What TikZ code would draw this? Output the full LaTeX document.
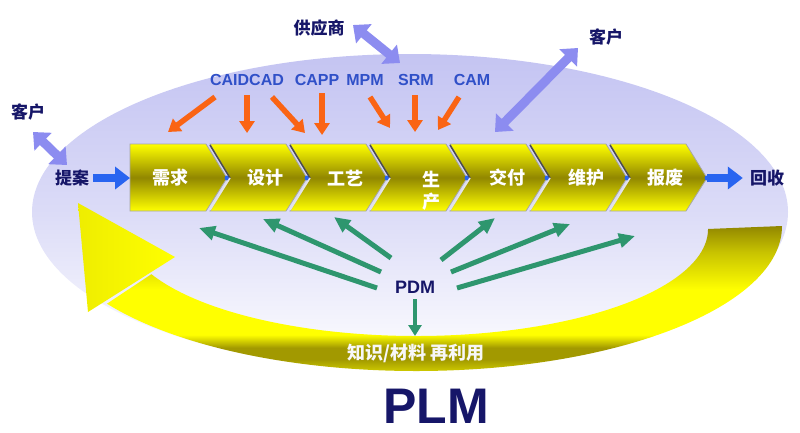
\documentclass[tikz,border=0pt]{standalone}
\usepackage{fontspec}
\setmainfont{Liberation Sans}
\newfontfamily\cjk{Noto Sans CJK SC}
\usetikzlibrary{arrows.meta}

\definecolor{lav}{RGB}{196,196,242}
\definecolor{navy}{RGB}{22,22,104}
\definecolor{caxblue}{RGB}{48,80,200}
\definecolor{flowblue}{RGB}{40,100,240}
\definecolor{dblblue}{RGB}{140,140,240}
\definecolor{caxorange}{RGB}{250,100,20}
\definecolor{pdmgreen}{RGB}{46,150,110}
\definecolor{darkyellow}{RGB}{145,135,0}

\pgfdeclareverticalshading{bandshade}{100bp}{color(0bp)=(yellow!55!darkyellow); color(25bp)=(yellow!55!darkyellow);
  color(29bp)=(darkyellow!85!yellow); color(33bp)=(darkyellow!85!yellow); color(37.5bp)=(yellow);
  color(53bp)=(yellow); color(66bp)=(yellow!50!darkyellow); color(75bp)=(darkyellow); color(100bp)=(darkyellow)}

\tikzset{
  label cn/.style={font=\cjk\bfseries\fontsize{17}{17}\selectfont, text=navy, inner sep=1pt},
  label cax/.style={font=\bfseries\fontsize{16}{16}\selectfont, text=caxblue, inner sep=1pt},
  stage/.style={font=\cjk\bfseries\fontsize{18}{22}\selectfont, text=white, inner sep=1pt},
  chevron/.style={top color=yellow, bottom color=yellow, middle color=darkyellow, draw=gray!70, line width=0.8pt},
  flowarrow/.style={flowblue, line width=8pt, -{Triangle[length=15pt,width=22pt]}},
  dblarrow/.style={dblblue, line width=9pt, {Triangle[length=14pt,width=24pt]}-{Triangle[length=14pt,width=24pt]}},
  caxarrow/.style={caxorange, line width=5.5pt, -{Triangle[length=12pt,width=15pt]}},
  pdmarrow/.style={pdmgreen, line width=5pt, -{Triangle[length=16pt,width=14pt]}},
}

\begin{document}
\begin{tikzpicture}[x=1pt, y=-1pt]
\useasboundingbox (0,0) rectangle (800,432);

\shade[top color=lav, bottom color=white, middle color=lav!60!white] (410,212) ellipse [x radius=378, y radius=158];

% reuse loop
\shade[shading=bandshade]
  (782,226) arc[start angle=0, end angle=147.6, x radius=366, y radius=145]
  -- (151.4,274.2) arc[start angle=155, end angle=0, x radius=292, y radius=107] -- cycle;
\shade[left color=yellow!85!darkyellow, right color=yellow] (88,312) -- (78,203) -- (175,257) -- cycle;
\node[font=\cjk\bfseries\fontsize{18}{18}\selectfont, text=white!94!gray] (reuse) at (416,353) {知识/材料 再利用};

% value chain
\foreach \i in {0,...,6} {
  \pgfmathsetmacro\xa{130+80*\i}
  \pgfmathsetmacro\notch{ifthenelse(\i==0,0,20)}
  \path[chevron] (\xa,144) -- ++(76,0) -- ++(21,34) -- ++(-21,33) -- ++(-76,0) -- ++(\notch,-33) -- cycle;
  \ifnum\i>0
    \draw[gray!60!black, line width=1.5pt] (\xa,145) -- (\xa+20,178);
    \draw[white!80!gray, line width=1.5pt] (\xa+20,178) -- (\xa,210);
  \fi
  \coordinate (tip\i) at (\xa+97,178);
  \fill[flowblue] (tip\i) circle (2.5);
}
\coordinate (chainin) at (130,178);

\node[stage] (s1) at (170,178) {需求};
\node[stage] (s2) at (265,178) {设计};
\node[stage] (s3) at (345,178) {工艺};
\node[stage, align=center] (s4) at (431,191) {生\\产};
\node[stage] (s5) at (507,178) {交付};
\node[stage] (s6) at (586,178) {维护};
\node[stage] (s7) at (665,178) {报废};

\node[label cn] (proposal) at (72,178) {提案};
\node[label cn] (recycle) at (767,178) {回收};
\node[label cn] (custL) at (28,112) {客户};
\node[label cn] (supplier) at (319,28) {供应商};
\node[label cn] (custR) at (606,37) {客户};

\draw[flowarrow, shorten <=3pt] (proposal) -- (chainin);
\draw[flowarrow, shorten >=6pt] (tip6) -- (recycle);

\coordinate (dl1) at (33,132); \coordinate (dl2) at (67,165);
\coordinate (ds1) at (353,25); \coordinate (ds2) at (400,63);
\coordinate (dr1) at (578,48); \coordinate (dr2) at (495,132);
\draw[dblarrow] (dl1) -- (dl2);
\draw[dblarrow] (ds1) -- (ds2);
\draw[dblarrow] (dr1) -- (dr2);

\node[label cax] (caid) at (247,80) {CAIDCAD};
\node[label cax] (capp) at (317,80) {CAPP};
\node[label cax] (mpm) at (365,80) {MPM};
\node[label cax] (srm) at (416,80) {SRM};
\node[label cax] (cam) at (472,80) {CAM};

\foreach \n/\xs/\ys/\xe/\ye in {1/215/97/168/132, 2/247/95/247/133, 3/272/97/305/133,
    4/322/93/322/135, 5/370/97/390/128, 6/415/95/415/132, 7/459/97/438/130} {
  \coordinate (oa\n) at (\xs,\ys);
  \coordinate (ob\n) at (\xe,\ye);
  \draw[caxarrow] (oa\n) -- (ob\n);
}

\node[font=\bfseries\fontsize{18}{18}\selectfont, text=navy, anchor=base, inner sep=1pt] (pdm) at (415,293) {PDM};
\foreach \n/\xs/\ys/\xe/\ye in {1/377/288/199/228, 2/381/272/263/219, 3/391/258/334/217,
    4/441/260/495/218, 5/451/272/570/224, 6/457/288/635/236} {
  \coordinate (ga\n) at (\xs,\ys);
  \coordinate (gb\n) at (\xe,\ye);
  \draw[pdmarrow] (ga\n) -- (gb\n);
}
\coordinate (gdown) at (pdm.south |- 0,336);
\draw[pdmarrow, line width=4.5pt, -{Triangle[length=11pt,width=13pt]}, shorten <=5pt] (pdm.south) -- (gdown);

\node[font=\bfseries\fontsize{50}{50}\selectfont, text=navy, anchor=base, inner sep=0pt] (plm) at (436,423) {PLM};
\end{tikzpicture}
\end{document}
